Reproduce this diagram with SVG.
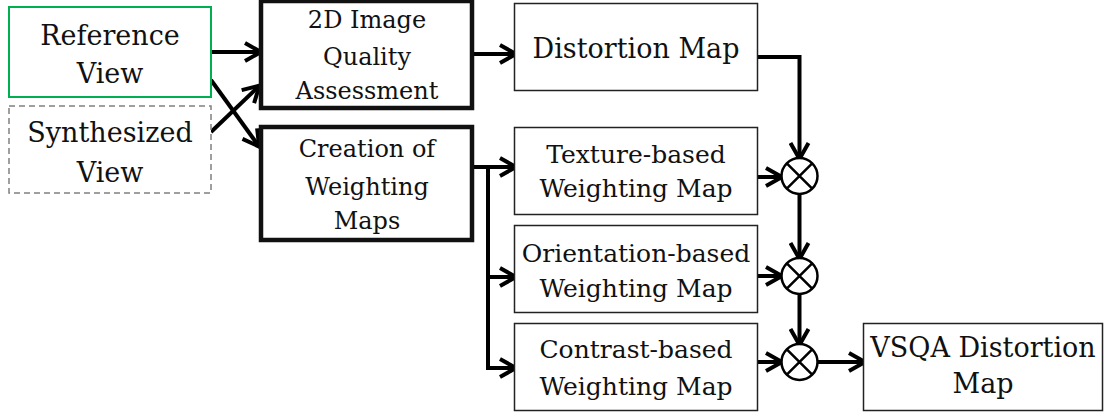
<svg xmlns="http://www.w3.org/2000/svg" width="1105" height="416" viewBox="0 0 1105 416">
<style>
text{font-family:"DejaVu Serif","Liberation Serif",serif;fill:#111;text-anchor:middle}
.big{font-size:27px}
.sm{font-size:24px}
.md{font-size:25px}
.thin{fill:#fff;stroke:#222;stroke-width:1.5}
.thick{fill:#fff;stroke:#111;stroke-width:4.5}
.con{fill:none;stroke:#000;stroke-width:4;stroke-linejoin:miter}
.arr{marker-end:url(#ah)}
.op{fill:#fff;stroke:#000;stroke-width:2.5}
</style>
<defs>
<marker id="ah" markerUnits="userSpaceOnUse" viewBox="0 0 22 22" markerWidth="22" markerHeight="22" refX="15" refY="11" orient="auto">
<path d="M1,2 L17,11 L1,20" fill="none" stroke="#000" stroke-width="4"/>
</marker>
</defs>
<rect width="1105" height="416" fill="#fff"/>
<g id="connectors">
<path class="con arr" d="M211,52 L259,52"/>
<path class="con arr" d="M211,80 L258,145"/>
<path class="con arr" d="M211,132 L258,87"/>
<path class="con arr" d="M474,54 L514,54"/>
<path class="con arr" d="M757,57 L799.5,57 L799.5,157"/>
<path class="con arr" d="M474,167 L514,167"/>
<path class="con arr" d="M488,167 L488,368 L514,368"/>
<path class="con arr" d="M488,277 L514,277"/>
<path class="con arr" d="M757,177 L780,177"/>
<path class="con arr" d="M799.5,195 L799.5,257"/>
<path class="con arr" d="M758,276 L780,276"/>
<path class="con arr" d="M799.5,295 L799.5,343"/>
<path class="con arr" d="M758,362 L780,362"/>
<path class="con arr" d="M818,362 L863,362"/>
</g>
<g id="reference-view">
<rect x="9" y="7" width="202" height="90" fill="#fff" stroke="#00b050" stroke-width="2"/>
<text class="big" x="110" y="45">Reference</text>
<text class="big" x="110" y="83">View</text>
</g>
<g id="synthesized-view">
<rect x="9" y="106" width="202" height="87" fill="#fff" stroke="#808080" stroke-width="1.5" stroke-dasharray="6 4"/>
<text class="big" x="110" y="142">Synthesized</text>
<text class="big" x="110" y="182">View</text>
</g>
<g id="iqa">
<rect class="thick" x="261" y="1" width="211" height="107"/>
<text class="sm" x="367" y="28">2D Image</text>
<text class="sm" x="367" y="65">Quality</text>
<text class="sm" x="367" y="99">Assessment</text>
</g>
<g id="creation">
<rect class="thick" x="261" y="127" width="211" height="113"/>
<text class="sm" x="367" y="157">Creation of</text>
<text class="sm" x="367" y="195">Weighting</text>
<text class="sm" x="367" y="229">Maps</text>
</g>
<g id="distortion-map">
<rect class="thin" x="514.5" y="3.5" width="243" height="87"/>
<text class="big" x="636" y="58">Distortion Map</text>
</g>
<g id="texture-map">
<rect class="thin" x="514.5" y="127.5" width="243" height="87"/>
<text class="md" x="636" y="163">Texture-based</text>
<text class="md" x="636" y="197">Weighting Map</text>
</g>
<g id="orientation-map">
<rect class="thin" x="514.5" y="225.5" width="243" height="87"/>
<text class="md" x="636" y="262">Orientation-based</text>
<text class="md" x="636" y="297">Weighting Map</text>
</g>
<g id="contrast-map">
<rect class="thin" x="514.5" y="323.5" width="243" height="87"/>
<text class="md" x="636" y="358">Contrast-based</text>
<text class="md" x="636" y="395">Weighting Map</text>
</g>
<g id="mult1">
<circle class="op" cx="799.5" cy="176" r="18"/>
<path class="op" d="M786.8,163.3 L812.2,188.7 M812.2,163.3 L786.8,188.7"/>
</g>
<g id="mult2">
<circle class="op" cx="799.5" cy="276" r="18"/>
<path class="op" d="M786.8,263.3 L812.2,288.7 M812.2,263.3 L786.8,288.7"/>
</g>
<g id="mult3">
<circle class="op" cx="799.5" cy="362" r="18"/>
<path class="op" d="M786.8,349.3 L812.2,374.7 M812.2,349.3 L786.8,374.7"/>
</g>
<g id="vsqa">
<rect class="thin" x="863.5" y="323.5" width="239" height="87"/>
<text class="big" x="983" y="357">VSQA Distortion</text>
<text class="big" x="983" y="393">Map</text>
</g>
</svg>
